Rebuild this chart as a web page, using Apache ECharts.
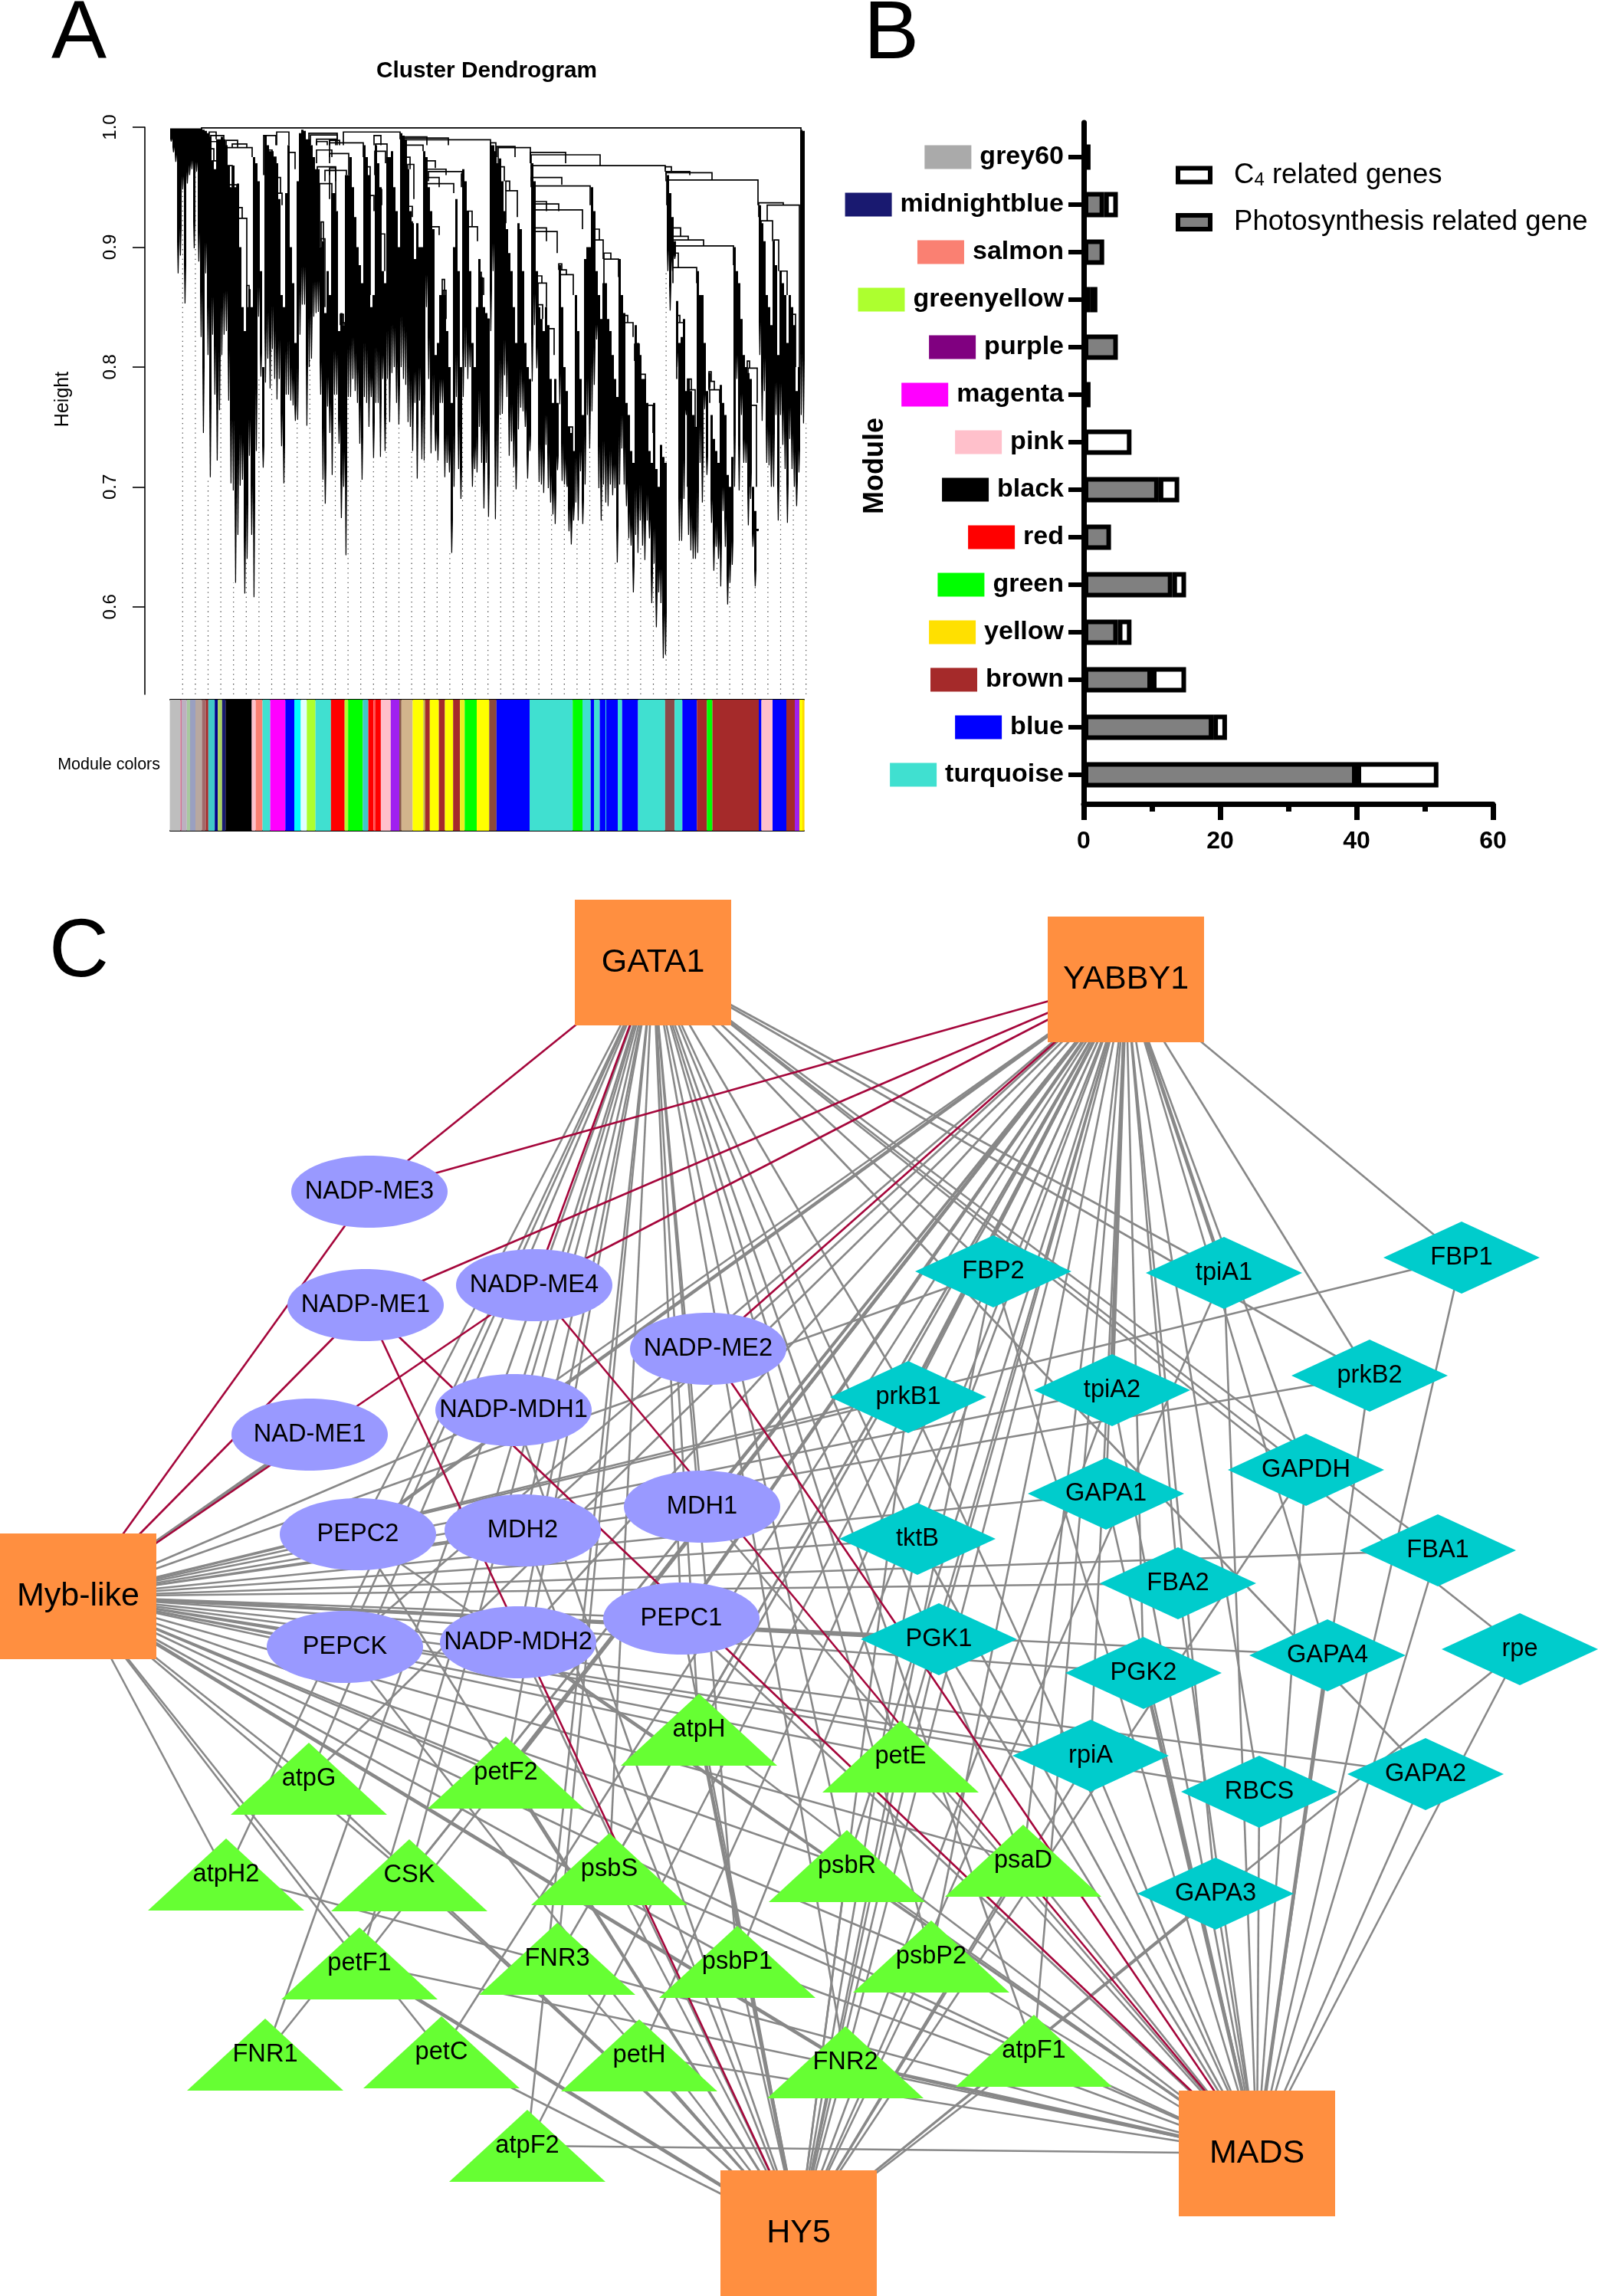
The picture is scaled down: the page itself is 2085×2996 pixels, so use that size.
<!DOCTYPE html>
<html><head><meta charset="utf-8">
<style>html,body{margin:0;padding:0;background:#fff}#c{width:2085px;height:2996px}</style>
<script src="https://cdn.jsdelivr.net/npm/echarts@6/dist/echarts.min.js"></script>
</head><body><div id="c"></div>
<script>
// ---------- Panel A: dendrogram (heights in thousandths)
const stemBottom=[988,979,971,878,893,948,853,953,960,965,
899,963,888,825,745,878,810,708,827,777,
722,764,810,827,830,772,703,697,620,660,
701,706,611,640,726,660,608,730,842,792,
716,787,807,782,815,790,773,790,734,703,
777,777,772,768,755,756,827,852,852,751,
800,807,842,845,846,777,706,686,767,745,
710,777,777,736,674,700,643,775,775,790,
780,770,736,706,775,770,750,775,724,770,
770,725,790,730,790,754,795,800,770,752,
800,790,785,754,750,730,770,707,772,723,
722,850,790,728,760,730,722,770,770,708,
720,712,645,700,775,715,690,775,800,790,
800,700,715,712,750,720,682,720,675,830,
880,673,700,760,761,793,775,726,738,717,
698,748,766,763,750,707,730,788,835,799,
704,702,695,735,699,687,677,669,714,769,
705,702,702,663,652,672,687,672,713,669,
702,760,732,763,785,823,699,672,702,687,
684,702,693,699,637,702,732,702,684,657,
651,612,660,645,672,651,639,672,657,603,
636,583,612,603,557,560,880,847,880,890,
800,655,655,690,760,660,647,640,640,645,
720,687,765,710,780,670,630,650,640,617,
680,650,602,620,635,700,790,697,760,720,
720,668,690,650,617,663,810,755,780,720,
718,700,700,760,672,760,735,715,670,740,
715,700,684,712,760,753];
const stemTop=[999,999,999,999,999,999,999,999,999,999,
999,999,999,999,998,997,995,992,972,965,
990,990,992,990,985,968,950,968,950,953,
900,850,830,850,865,850,975,970,955,880,
800,993,985,980,980,975,970,940,860,850,
945,985,900,870,820,955,995,998,997,990,
990,985,975,965,965,900,905,845,880,860,
945,945,930,830,845,835,960,960,975,950,
925,900,885,870,985,975,960,850,860,985,
970,950,880,870,975,975,980,950,930,900,
995,993,990,965,930,920,890,920,900,900,
980,975,950,930,915,810,820,860,860,860,
830,800,770,900,940,880,800,965,955,930,
880,820,800,850,890,875,850,845,840,985,
985,980,970,974,955,930,915,895,880,850,
820,920,915,880,820,800,790,970,955,880,
850,840,830,850,835,790,770,790,770,885,
850,800,780,750,745,730,860,830,790,760,
890,900,900,950,930,880,860,840,870,870,
840,830,810,790,775,890,860,845,770,760,
730,720,835,820,810,790,790,770,730,720,
770,715,700,735,725,720,960,945,925,905,
855,820,825,840,780,790,780,760,750,880,
860,860,820,780,795,760,740,730,720,785,
770,760,710,700,725,900,880,870,840,810,
800,795,790,700,680,665,935,920,905,860,
850,835,905,885,810,880,870,860,820,860,
850,835,780,800,998,997];
// merges: leaf position left, leaf position right, height, left leg end, right leg end
const merges=[[263,1045,999.5,998,998],[273,282,996,990,990],[275,292,993,970,985],[275,285,988,970,980],[275,279,982,972,972],[277,283,972,965,965],
[296,329,983,968,975],[295,310,989,983,983],[303,322,986,983,983],[297,303,968,950,950],[298,309,952,930,933],[309,316,933,924,924],[309,322,924,898,850],[322,325,868,840,840],
[344,360,993,960,985],[350,355,981,970,970],[347,360,975,960,940],[362,368,945,870,935],[362,366,958,945,945],[361,377,996,985,985],[377,385,979,890,965],
[403,440,995,985,990],[405,440,993.5,985,990],[413,440,990,985,985],[413,427,988,985,985],[413,433,981,970,975],[414,438,967,960,930],[424,438,964,955,955],[417,433,953,900,945],[419,422,921,905,905],[419,424,907,850,850],[422,424,842,820,820],
[430,438,989,985,985],[430,443,989,985,985],[430,474,987,975,975],[430,455,978,970,960],[430,438,966,960,960],[430,452,964,940,960],[445,450,837,800,835],[444,448,844,835,835],
[448,522,996,985,990],[488,497,993,985,985],[490,505,986,975,975],[489,503,980,960,970],[475,478,968,960,960],[477,483,967,950,940],[483,488,943,860,930],[490,498,948,870,935],[493,502,911,880,880],
[523,557,992,985,985],[525,585,991,985,985],[525,640,989.5,985,985],[528,552,985,980,980],[529,535,975,965,965],[532,540,969,930,940],[533,538,934,925,925],[534,538,921,880,900],
[555,568,972,965,966],[556,582,965,960,960],[559,603,963,955,955],[556,573,958,950,950],[557,592,953,940,945],[562,573,917,890,910],[577,580,873,860,860],[578,582,864,840,840],
[602,605,961,950,950],[610,616,930,917,917],[610,623,917,890,905],[625,628,879,874,874],[625,631,874,860,860],[633,638,840,800,800],
[640,647,987,975,975],[648,672,984,975,975],[650,692,983,970,970],[652,658,967,955,955],[660,665,955,947,947],[660,675,947,920,925],[692,738,979,970,970],[693,783,977,965,968],[693,868,968,955,965],
[693,733,958,950,952],[695,770,951,940,935],[697,713,938,930,930],[697,729,936,925,930],[698,760,931,900,915],[698,713,916,905,905],[698,727,913,880,895],
[729,733,886,881,881],[730,739,881,877,877],[730,748,877,860,860],[701,707,876,870,870],[702,713,870,850,850],[702,708,852,840,840],[715,723,832,810,810],
[772,782,915,906,906],[775,787,906,880,890],[788,797,895,890,890],[788,807,890,860,875],[812,819,843,837,837],[813,826,837,790,825],[828,834,819,805,805],[835,842,794,775,775],[843,852,768,745,745],[740,747,750,700,700],
[868,876,967,963,963],[869,900,963,960,960],[869,929,962,955,956],[870,989,956,935,935],
[878,888,916,909,909],[878,898,909,906,906],[878,918,906,901,901],[880,957,901,895,885],[878,885,895,883,883],[878,909,883,870,870],
[883,887,843,837,837],[883,892,837,790,790],[897,902,790,781,781],[897,907,781,700,700],
[925,928,796,788,788],[925,932,788,781,781],[926,939,781,770,770],[941,947,756,700,700],
[975,978,805,799,799],[976,988,799,770,770],[979,987,768,700,700],
[990,1022,937,925,935],[1001,1043,935,922,800],[993,1008,922,860,905],[1010,1016,906,880,880],[1018,1027,880,860,860],[1030,1038,844,800,800]];
const bandEnds=[235.4,237,243.8,248,255,263.4,268.5,271.8,280.2,284.2,289.8,294.3,328.5,333.6,342.5,352.6,372.3,384,392.5,400.3,411.6,431.8,449.7,454.2,473.3,480.6,487.3,490,496.9,509.8,521,523.8,538.4,552.4,554.7,560.8,572.6,580.5,591.2,600.1,606.3,622,638.3,647.8,691,747.2,760,770.7,775,782.5,790,791,806,811.7,832.5,867.8,880.2,890.3,909.3,922.3,929.5,990,993.5,1008,1026,1037,1043,1047,1049.6];
const bandColors=['#BEBEBE','#D27090','#BDB0C0','#A8C8A0','#9AA0C0','#B8A8A0','#A06A6A','#A52A2A','#40C8C8','#00008B','#A8D060','#191970','#000000','#FFC0CB','#FA8072','#40E0D0','#FF00FF','#0000FF','#00FFFF','#E0FFFF','#ADFF2F','#40E0D0','#FF0000','#ADFF2F','#00FF00','#40C8C8','#FF0000','#FF5050','#FF0000','#FFC0CB','#A020F0','#8B5A4A','#D2B48C','#FFFF00','#C0B040','#A52A2A','#FFFF00','#A52A2A','#FFFF00','#A52A2A','#E8F020','#00FF00','#FFFF00','#8B4A3A','#0000FF','#40E0D0','#00FF00','#40E0D0','#0000FF','#40E0D0','#0000FF','#40E0D0','#0000FF','#40E0D0','#0000FF','#40E0D0','#8B4A4A','#40E0D0','#0000FF','#A52A2A','#00FF00','#A52A2A','#0000FF','#FFC0CB','#0000FF','#A52A2A','#A020F0','#FFFF00','#FFD700'];
const heightTicks=[0.6,0.7,0.8,0.9,1.0];

// ---------- Panel B
const modules=['grey60','midnightblue','salmon','greenyellow','purple','magenta','pink','black','red','green','yellow','brown','blue','turquoise'];
const moduleColors=['#AAAAAA','#191970','#FA8072','#ADFF2F','#800080','#FF00FF','#FFC0CB','#000000','#FF0000','#00FF00','#FFE000','#A52A2A','#0000FF','#40E0D0'];
const photoGenes=[1,3,3,1,5,1,null,11,4,13,5,10,19,40];
const c4Genes=[null,2,null,1,null,null,7,3,null,2,2,5,2,12];

// ---------- Panel C
const nodeNames=['GATA1','YABBY1','Myb-like','HY5','MADS',
'NADP-ME3','NADP-ME1','NADP-ME4','NADP-ME2','NADP-MDH1','NAD-ME1','PEPC2','MDH2','MDH1','PEPCK','NADP-MDH2','PEPC1',
'FBP2','tpiA1','FBP1','prkB1','tpiA2','prkB2','GAPDH','GAPA1','tktB','FBA1','FBA2','PGK1','PGK2','GAPA4','rpe','rpiA','RBCS','GAPA2','GAPA3',
'atpH','atpG','petF2','petE','atpH2','CSK','psbS','psbR','psaD','petF1','FNR3','psbP1','psbP2','FNR1','petC','petH','FNR2','atpF1','atpF2'];
const nodeKinds=['h','h','h','h','h',
'e','e','e','e','e','e','e','e','e','e','e','e',
'd','d','d','d','d','d','d','d','d','d','d','d','d','d','d','d','d','d','d',
't','t','t','t','t','t','t','t','t','t','t','t','t','t','t','t','t','t','t'];
const nodeX=[852,1469,102,1042,1640,
482,477,697,924,670,404,467,682,916,450,676,889,
1296,1597,1907,1185,1451,1787,1704,1443,1197,1876,1537,1225,1492,1732,1983,1423,1643,1860,1586,
912,403,660,1175,295,534,795,1105,1335,469,727,962,1215,346,576,834,1103,1349,688];
const nodeY=[1256,1278,2083,2914,2810,
1555,1703,1677,1760,1840,1872,2002,1997,1966,2149,2143,2112,
1659,1661,1641,1823,1814,1795,1918,1949,2008,2023,2066,2139,2183,2160,2152,2291,2338,2315,2471,
2257,2321,2313,2292,2446,2447,2439,2435,2428,2562,2556,2560,2553,2681,2678,2682,2691,2676,2800];
const hubCodes={G:'GATA1',Y:'YABBY1',M:'Myb-like',H:'HY5',A:'MADS'};
// gene : regulators (a 2 marks a heavier line)
const greyLinks={'NADP-MDH1':'G Y M H','NAD-ME1':'M2','PEPC2':'G Y2 M H A','MDH2':'G Y M H','MDH1':'G Y M A','PEPCK':'G Y M H','NADP-MDH2':'G Y M H A','PEPC1':'G Y2 M H A',
'FBP2':'G Y M H A','tpiA1':'Y2 A G H','FBP1':'Y A M','prkB1':'G Y2 M H A','tpiA2':'Y2 M H A','prkB2':'Y G M A','GAPDH':'G Y H A','GAPA1':'Y M A','tktB':'G Y M H A','FBA1':'G M A','FBA2':'Y M A','PGK1':'Y M2 H A','PGK2':'Y M A2','GAPA4':'Y M A2','rpe':'G H A','rpiA':'Y M H A','RBCS':'Y M A','GAPA2':'G M A','GAPA3':'Y H A',
'atpH':'G Y M H2 A','atpG':'G Y M H','petF2':'G Y2 M H','petE':'G Y M H A','atpH2':'G M A','CSK':'G Y M H','psbS':'G Y H A','psbR':'G Y M H A','psaD':'G Y M H A','petF1':'G Y M H2 A','FNR3':'G Y H','psbP1':'G Y M H A','psbP2':'G Y M H A','FNR1':'G Y','petC':'Y M H','petH':'Y H A','FNR2':'G Y M2 H A2','atpF1':'G Y M H A','atpF2':'G Y A'};
const redLinks={'NADP-ME3':'G Y M','NADP-ME1':'Y M H A','NADP-ME4':'G Y M A','NADP-ME2':'Y A'};

// ---------- styling and assembly
const FONT='Liberation Sans';
const ELLIPSE='path://M0 50C0 22.4 22.4 0 50 0S100 22.4 100 50S77.6 100 50 100S0 77.6 0 50Z';
const kindStyle={h:{symbol:'rect',size:[204,164],color:'#FF8F40',font:43},
 e:{symbol:ELLIPSE,size:[204,94],color:'#9999FF',font:32.6},
 d:{symbol:'diamond',size:[204,94],color:'#00CCCC',font:32.6},
 t:{symbol:'triangle',size:[204,94],color:'#66FF33',font:32.6}};
const graphNodes=nodeNames.map((n,i)=>{const k=kindStyle[nodeKinds[i]];return{name:n,value:[nodeX[i],nodeY[i]],symbol:k.symbol,symbolSize:k.size,itemStyle:{color:k.color},label:{fontSize:k.font}};});
function links(table,color){const out=[];Object.keys(table).forEach(g=>table[g].split(' ').forEach(c=>{out.push({source:hubCodes[c[0]],target:g,lineStyle:{color:color,width:c[1]==='2'?4.6:2.6,opacity:1,curveness:0}});}));return out;}
const graphLinks=links(greyLinks,'#888888').concat(links(redLinks,'#A5063B'));

const rich={t:{fontFamily:FONT,fontWeight:'bold',fontSize:34,color:'#000'}};
modules.forEach((m,i)=>{rich['s'+i]={backgroundColor:moduleColors[i],width:61,height:31};rich['g'+i]={width:11};});

const stemIdx=stemBottom.map((_,i)=>[i]);
const guideIdx=[];for(let k=0;k<50;k++)guideIdx.push([k]);
const LEAF0=222,BIN=3;
const bandData=bandEnds.map((e,i)=>[i===0?221.6:bandEnds[i-1],e]);

const option={animation:false,backgroundColor:'#fff',
title:[
 {text:'A',left:62,top:-13,textStyle:{fontFamily:FONT,fontWeight:'normal',fontSize:108,color:'#000'}},
 {text:'B',left:1122,top:-13,textStyle:{fontFamily:FONT,fontWeight:'normal',fontSize:108,color:'#000'}},
 {text:'C',left:59,top:1185,textStyle:{fontFamily:FONT,fontWeight:'normal',fontSize:108,color:'#000'}},
 {text:'Cluster Dendrogram',left:486,top:73,textStyle:{fontFamily:FONT,fontWeight:'bold',fontSize:29.8,color:'#000'}}],
graphic:[{type:'text',x:82,y:521,rotation:Math.PI/2,style:{text:'Height',fontFamily:FONT,fontSize:25,fill:'#000',textAlign:'center',textVerticalAlign:'middle'}}],
legend:{show:true,orient:'vertical',left:1529,top:205,itemWidth:42,itemHeight:18,itemGap:24,selectedMode:false,icon:'rect',data:['C4 related genes','Photosynthesis related gene'],
 itemStyle:{borderWidth:6,borderColor:'#000'},
 formatter:n=>n==='C4 related genes'?'{a|C}{b|4}{a| related genes}':'{a|'+n+'}',
 textStyle:{fontFamily:FONT,fontSize:36.6,color:'#000',padding:[0,0,0,26],rich:{a:{fontFamily:FONT,fontSize:36.6,color:'#000'},b:{fontFamily:FONT,fontSize:24,color:'#000',verticalAlign:'bottom',padding:[14,0,0,0]}}}},
grid:[
 {left:189,top:166,width:860,height:740},
 {left:222,top:913,width:827,height:171},
 {left:1414,top:160,width:534,height:889},
 {left:1414,top:174,width:534,height:868},
 {left:0,top:0,width:2085,height:2996}],
xAxis:[
 {gridIndex:0,type:'value',min:189,max:1049,show:false},
 {gridIndex:1,type:'value',min:222,max:1049,position:'top',axisLine:{show:true,onZero:false,lineStyle:{color:'#000',width:2}},axisTick:{show:false},axisLabel:{show:false},splitLine:{show:false}},
 {gridIndex:1,type:'value',min:222,max:1049,position:'bottom',axisLine:{show:true,onZero:false,lineStyle:{color:'#000',width:2}},axisTick:{show:false},axisLabel:{show:false},splitLine:{show:false}},
 {gridIndex:2,type:'value',min:0,max:60,interval:20,axisLine:{show:true,lineStyle:{color:'#000',width:7}},axisTick:{show:true,length:21,lineStyle:{color:'#000',width:7}},minorTick:{show:true,splitNumber:2,length:10,lineStyle:{color:'#000',width:7}},axisLabel:{fontFamily:FONT,fontWeight:'bold',fontSize:32,color:'#000',margin:33},splitLine:{show:false},minorSplitLine:{show:false}},
 {gridIndex:3,type:'value',min:0,max:60,show:false},
 {gridIndex:4,type:'value',min:0,max:2085,show:false}],
yAxis:[
 {gridIndex:0,type:'value',min:0.527,max:1,axisLine:{show:true,lineStyle:{color:'#000',width:1.6}},axisTick:{show:true,length:16,customValues:heightTicks,lineStyle:{color:'#000',width:1.6}},axisLabel:{rotate:90,fontFamily:FONT,fontSize:24,color:'#000',margin:33,customValues:heightTicks,formatter:v=>v.toFixed(1),hideOverlap:false,showMinLabel:true,showMaxLabel:true},splitLine:{show:false}},
 {gridIndex:1,type:'value',min:0,max:1,name:'Module colors',nameLocation:'middle',nameRotate:0,nameGap:13,nameTextStyle:{fontFamily:FONT,fontSize:21.5,color:'#000',padding:[4,0,0,0]},axisLine:{show:false},axisTick:{show:false},axisLabel:{show:false},splitLine:{show:false}},
 {gridIndex:2,type:'value',min:0,max:1,axisLine:{show:true,lineStyle:{color:'#000',width:7}},axisTick:{show:false},axisLabel:{show:false},splitLine:{show:false}},
 {gridIndex:3,type:'category',inverse:true,data:modules,name:'Module',nameLocation:'middle',nameRotate:90,nameGap:254,nameMoveOverlap:false,nameTextStyle:{fontFamily:FONT,fontWeight:'bold',fontSize:36,color:'#000'},axisLine:{show:false},axisTick:{show:true,alignWithLabel:true,length:20,lineStyle:{color:'#000',width:6}},axisLabel:{interval:0,margin:26,formatter:(v,i)=>`{s${i}| }{g${i}| }{t|${v}}`,rich:rich}},
 {gridIndex:4,type:'value',inverse:true,min:0,max:2996,show:false}],
series:[
 {type:'custom',name:'guides',xAxisIndex:0,yAxisIndex:0,silent:true,z:1,data:guideIdx,clip:false,renderItem:(p,api)=>{
   const k=api.value(0),x=238.3+16.6*k,b=stemBottom[Math.min(stemBottom.length-1,Math.round((x-LEAF0)/BIN))]/1000;
   const a=api.coord([x,0.527]),c=api.coord([x,b]);
   return{type:'line',shape:{x1:a[0],y1:a[1],x2:c[0],y2:c[1]},style:{stroke:'#444',lineWidth:1.2,lineDash:[1.3,5]}};}},
 {type:'custom',name:'stems',xAxisIndex:0,yAxisIndex:0,silent:true,z:2,data:stemIdx,clip:false,renderItem:(p,api)=>{
   const i=api.value(0),x=LEAF0+BIN*i,T=stemTop[i]/1000,B=stemBottom[i]/1000,M=B+(T-B)*0.22;
   const pts=[api.coord([x,T]),api.coord([x+3,T]),api.coord([x+3,M]),api.coord([x+2,B]),api.coord([x+0.8,B]),api.coord([x,M])];
   return{type:'polygon',shape:{points:pts},style:{fill:'#000'}};}},
 {type:'custom',name:'merges',xAxisIndex:0,yAxisIndex:0,silent:true,z:3,data:merges.map((_,i)=>[i]),clip:false,renderItem:(p,api)=>{
   const m=merges[api.value(0)];
   const pts=[api.coord([m[0],m[3]/1000]),api.coord([m[0],m[2]/1000]),api.coord([m[1],m[2]/1000]),api.coord([m[1],m[4]/1000])];
   return{type:'polyline',shape:{points:pts},style:{stroke:'#000',lineWidth:1.7,fill:null}};}},
 {type:'custom',name:'bands',xAxisIndex:1,yAxisIndex:1,silent:true,z:2,data:bandData,renderItem:(p,api)=>{
   const a=api.coord([api.value(0),1]),b=api.coord([api.value(1),0]);
   return{type:'rect',shape:{x:a[0],y:a[1],width:b[0]-a[0],height:b[1]-a[1]},style:{fill:bandColors[p.dataIndex]}};}},
 {type:'bar',name:'Photosynthesis related gene',xAxisIndex:4,yAxisIndex:3,stack:'g',barWidth:33,data:photoGenes,itemStyle:{color:'#808080',borderColor:'#000',borderWidth:6},z:3},
 {type:'bar',name:'C4 related genes',xAxisIndex:4,yAxisIndex:3,stack:'g',barWidth:33,data:c4Genes,itemStyle:{color:'#fff',borderColor:'#000',borderWidth:6},z:3},
 {type:'graph',coordinateSystem:'cartesian2d',xAxisIndex:5,yAxisIndex:4,layout:'none',roam:false,silent:true,z:2,data:graphNodes,links:graphLinks,
  label:{show:true,position:'inside',fontFamily:FONT,color:'#000'},lineStyle:{opacity:1},edgeSymbol:['none','none'],emphasis:{disabled:true}}
]};
echarts.init(document.getElementById('c'),null,{renderer:'canvas'}).setOption(option);
</script></body></html>
